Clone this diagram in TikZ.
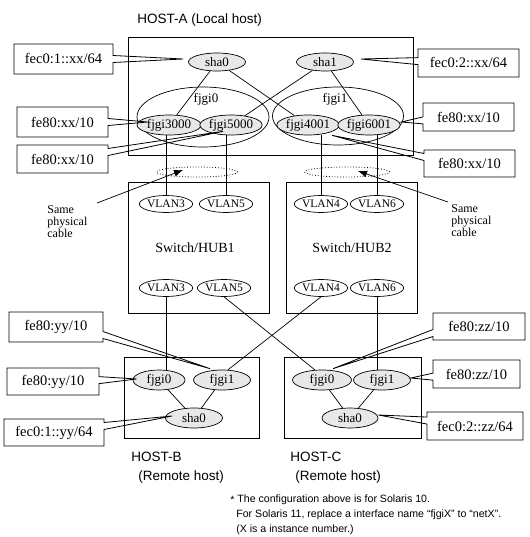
\documentclass[tikz,border=0pt]{standalone}
\usepackage{fontspec}
\setmainfont{Liberation Serif}
\newfontfamily\sansf{Liberation Sans}
\usetikzlibrary{shapes.geometric,shapes.callouts,calc,arrows.meta}
\begin{document}
\begin{tikzpicture}[x=1pt,y=-1pt,line width=0.7pt,
  box/.style={draw,inner sep=0,line width=0.8pt},
  ifc/.style={ellipse,draw,fill=gray!18,inner sep=0,minimum height=20pt,font=\fontsize{13}{13}\selectfont},
  grp/.style={ellipse,draw,inner sep=0},
  vlan/.style={ellipse,draw,inner sep=0,minimum width=49pt,minimum height=17pt,font=\fontsize{11.5}{11.5}\selectfont},
  addr/.style={rectangle callout,draw,inner sep=0,line width=0.8pt,callout pointer width=7pt,font=\fontsize{14.5}{14.5}\selectfont},
  hostlbl/.style={font=\sansf\fontsize{13.5}{16}\selectfont,inner sep=0,anchor=west},
  cable/.style={ellipse,draw,dotted,inner sep=0,minimum height=10pt,line width=0.8pt},
  sametxt/.style={font=\fontsize{12}{12}\selectfont,align=left,inner sep=0,anchor=north west},
  grplbl/.style={font=\fontsize{13}{13}\selectfont,inner sep=0},
  swlbl/.style={font=\fontsize{14}{14}\selectfont,inner sep=0},
  arr/.style={-{Latex[length=9pt,width=7pt]},line width=0.7pt}]
\useasboundingbox (0,0) rectangle (529,537);

% boxes
\node[box,minimum width=285pt,minimum height=118pt] (hostA) at (270.5,96) {};
\node[box,minimum width=141pt,minimum height=131pt] (sw1) at (198.5,247.5) {};
\node[box,minimum width=131pt,minimum height=131pt] (sw2) at (351.5,247.5) {};
\node[box,minimum width=135pt,minimum height=81pt] (hostB) at (191.5,397.5) {};
\node[box,minimum width=137pt,minimum height=81pt] (hostC) at (352.5,397.5) {};

% host labels
\node[hostlbl] (lblA) at (137,20) {HOST-A (Local host)};
\node[hostlbl] (lblB1) at (131,457) {HOST-B};
\node[hostlbl] (lblB2) at (138,477) {(Remote host)};
\node[hostlbl] (lblC1) at (290,457) {HOST-C};
\node[hostlbl] (lblC2) at (295,477) {(Remote host)};

% HOST-A groups
\node[grp,minimum width=132pt,minimum height=60pt] (g0) at (203,117) {};
\node[grp,minimum width=131pt,minimum height=58pt] (g1) at (338,116) {};
\node[grplbl] (g0l) at (206,99) {fjgi0};
\node[grplbl] (g1l) at (335,99) {fjgi1};

% HOST-A interfaces
\node[ifc,minimum width=57pt,minimum height=18pt] (sha0A) at (217,62) {sha0};
\node[ifc,minimum width=57pt,minimum height=18pt] (sha1A) at (325,62) {sha1};
\node[ifc,minimum width=64pt] (f3000) at (169,125) {fjgi3000};
\node[ifc,minimum width=55pt] (f5000) at (231,125) {fjgi5000};
\node[ifc,minimum width=60pt] (f4001) at (308,125) {fjgi4001};
\node[ifc,minimum width=56pt] (f6001) at (369,125) {fjgi6001};

% physical cables
\node[cable,minimum width=81pt] (cabL) at (197,172) {};
\node[cable,minimum width=85pt] (cabR) at (347,172) {};

% VLANs
\node[vlan] (v3a) at (166,204) {VLAN3};
\node[vlan] (v5a) at (226,204) {VLAN5};
\node[vlan] (v4a) at (321,204) {VLAN4};
\node[vlan] (v6a) at (377,204) {VLAN6};
\node[vlan] (v3b) at (166,288) {VLAN3};
\node[vlan] (v5b) at (224,288) {VLAN5};
\node[vlan] (v4b) at (321,288) {VLAN4};
\node[vlan] (v6b) at (377,288) {VLAN6};
\node[swlbl] (sw1l) at (195,248) {Switch/HUB1};
\node[swlbl] (sw2l) at (352,248) {Switch/HUB2};

% HOST-B / HOST-C interfaces
\node[ifc,minimum width=52pt] (fB0) at (159,380) {fjgi0};
\node[ifc,minimum width=57pt] (fB1) at (222,380) {fjgi1};
\node[ifc,minimum width=57pt] (shaB) at (194,418) {sha0};
\node[ifc,minimum width=59pt] (fC0) at (322,380) {fjgi0};
\node[ifc,minimum width=57pt] (fC1) at (382,380) {fjgi1};
\node[ifc,minimum width=56pt] (shaC) at (350,418) {sha0};

% connections
\draw (sha0A) -- (f3000);
\draw (sha0A) -- (f4001);
\draw (sha1A) -- (f5000);
\draw (sha1A) -- (f6001);
\draw (v3a.north) -- (v3a.north |- f3000.south);
\draw (v5a.north) -- (v5a.north |- f5000.south);
\draw (v4a.north) -- (v4a.north |- f4001.south);
\draw (v6a.north) -- (v6a.north |- f6001.south);
\draw (v3b.south) -- (v3b.south |- fB0.north);
\draw (v5b.south) -- (fC0.125);
\draw (v4b.south) -- (fB1.60);
\draw (v6b.south) -- (v6b.south |- fC1.north);
\draw (fB0) -- (shaB);
\draw (fB1) -- (shaB);
\draw (fC0) -- (shaC);
\draw (fC1) -- (shaC);

% same physical cable
\node[sametxt] (sameL) at (47,205) {Same\\physical\\cable};
\node[sametxt] (sameR) at (451,204) {Same\\physical\\cable};
\coordinate (aL) at (97,203);
\coordinate (tL) at ($(cabL.center)+(-14,-2)$);
\coordinate (aR) at (448,202);
\coordinate (tR) at ($(cabR.center)+(11,-1)$);
\draw[arr] (aL) -- (tL);
\draw[arr] (aR) -- (tR);

% address callout tips
\coordinate (t1) at ($(sha0A.west)+(-5,-3)$);
\coordinate (t2) at ($(sha1A.east)+(7,-3)$);
\coordinate (t3) at ($(f3000.west)+(11,-3)$);
\coordinate (t4) at ($(f5000.south)+(-8,-4)$);
\coordinate (t5) at ($(f6001.east)+(1,-3)$);
\coordinate (t6) at ($(f4001.south)+(24,0)$);
\coordinate (t7) at ($(fB1.north)+(-12,-1)$);
\coordinate (t8) at ($(fB0.west)+(4,-1)$);
\coordinate (t9) at ($(shaB.west)+(7,-2)$);
\coordinate (t10) at ($(fC0.north)+(11,-1)$);
\coordinate (t11) at ($(fC1.east)+(0,-2)$);
\coordinate (t12) at ($(shaC.east)+(0,-3)$);

\node[addr,minimum width=99pt,minimum height=30pt,callout absolute pointer=(t1)] (c1) at (63.5,59) {fec0:1::xx/64};
\node[addr,minimum width=101pt,minimum height=28pt,callout absolute pointer=(t2)] (c2) at (468.5,63) {fec0:2::xx/64};
\node[addr,minimum width=91pt,minimum height=30pt,callout absolute pointer=(t3)] (c3) at (62.5,122) {fe80:xx/10};
\node[addr,minimum width=91pt,minimum height=28pt,callout absolute pointer=(t4)] (c4) at (62.5,159) {fe80:xx/10};
\node[addr,minimum width=91pt,minimum height=28pt,callout absolute pointer=(t5)] (c5) at (468.5,117) {fe80:xx/10};
\node[addr,minimum width=91pt,minimum height=27pt,callout absolute pointer=(t6)] (c6) at (469.5,163.5) {fe80:xx/10};
\node[addr,minimum width=94pt,minimum height=30pt,callout absolute pointer=(t7)] (c7) at (56,327) {fe80:yy/10};
\node[addr,minimum width=92pt,minimum height=27pt,callout absolute pointer=(t8)] (c8) at (53,381.5) {fe80:yy/10};
\node[addr,minimum width=100pt,minimum height=27pt,callout absolute pointer=(t9)] (c9) at (54,432.5) {fec0:1::yy/64};
\node[addr,minimum width=92pt,minimum height=27pt,callout absolute pointer=(t10)] (c10) at (479,326.5) {fe80:zz/10};
\node[addr,minimum width=87pt,minimum height=28pt,callout absolute pointer=(t11)] (c11) at (476.5,374) {fe80:zz/10};
\node[addr,minimum width=96pt,minimum height=28pt,callout absolute pointer=(t12)] (c12) at (475,426) {fec0:2::zz/64};

% footnote
\node[font=\sansf\fontsize{10.6}{15}\selectfont,align=left,inner sep=0,anchor=north west] (note) at (230,494)
 {\raisebox{-0.3ex}{*} The configuration above is for Solaris 10.\\
  \hspace*{6pt}For Solaris 11, replace a interface name “fjgiX” to “netX”.\\
  \hspace*{6pt}(X is a instance number.)};
\end{tikzpicture}
\end{document}
